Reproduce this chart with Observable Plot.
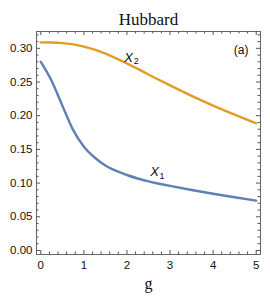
<!DOCTYPE html>
<html><head><meta charset="utf-8">
<script src="https://cdn.jsdelivr.net/npm/d3@7"></script>
<script src="https://cdn.jsdelivr.net/npm/@observablehq/plot@0.6"></script>
<style>body{margin:0;background:#fff}</style>
</head><body><div id="chart"></div>
<script>
const gValues = [0, 0.25, 0.5, 0.75, 1, 1.25, 1.5, 1.75, 2, 2.25, 2.5, 2.75, 3, 3.5, 4, 4.5, 5];
const x1Values = [0.280, 0.252, 0.215, 0.179, 0.154, 0.138, 0.126, 0.118, 0.112, 0.1068, 0.1025, 0.0990, 0.0958, 0.0898, 0.0842, 0.0790, 0.0740];
const x2Values = [0.3088, 0.3086, 0.3078, 0.3058, 0.3025, 0.2980, 0.2920, 0.2850, 0.2775, 0.2695, 0.2612, 0.2530, 0.2450, 0.2295, 0.2150, 0.2015, 0.1885];
const xTicks = [0, 1, 2, 3, 4, 5];
const xTickLabels = ["0", "1", "2", "3", "4", "5"];
const yTicks = [0, 0.05, 0.10, 0.15, 0.20, 0.25, 0.30];
const yTickLabels = ["0.00", "0.05", "0.10", "0.15", "0.20", "0.25", "0.30"];
const xMinor = d3.range(0, 5.01, 0.2).filter(v => Math.abs(v - Math.round(v)) > 1e-6);
const yMinor = d3.range(0, 0.3201, 0.01).filter(v => Math.abs(v * 20 - Math.round(v * 20)) > 1e-6);
const titleText = "Hubbard";
const xLabelText = "g";
const panelTag = "(a)";
const curveLabels = [
  {name: "X", sub: "1", g: 2.64, v: 0.117},
  {name: "X", sub: "2", g: 2.04, v: 0.2865}
];

const s1 = gValues.map((g, i) => ({g, v: x1Values[i]}));
const s2 = gValues.map((g, i) => ({g, v: x2Values[i]}));

const W = 270, H = 300, ML = 36, MR = 10, MT = 31, MB = 46;
const FW = W - ML - MR, FH = H - MT - MB;
const tickCol = "#555";

const chart = Plot.plot({
  width: W, height: H,
  marginLeft: ML, marginRight: MR, marginTop: MT, marginBottom: MB,
  style: {fontFamily: "'Liberation Sans', Arial, sans-serif", fontSize: "11.5px", color: "#111", background: "#fff"},
  x: {domain: [-0.1, 5.1], label: null},
  y: {domain: [-0.006, 0.325], label: null},
  marks: [
    Plot.frame({stroke: "#666"}),
    Plot.tickX(xTicks, {x: d => d, insetTop: FH - 4, stroke: tickCol}),
    Plot.tickX(xTicks, {x: d => d, insetBottom: FH - 4, stroke: tickCol}),
    Plot.tickX(xMinor, {x: d => d, insetTop: FH - 2.5, stroke: tickCol}),
    Plot.tickX(xMinor, {x: d => d, insetBottom: FH - 2.5, stroke: tickCol}),
    Plot.tickY(yTicks, {y: d => d, insetRight: FW - 4, stroke: tickCol}),
    Plot.tickY(yTicks, {y: d => d, insetLeft: FW - 4, stroke: tickCol}),
    Plot.tickY(yMinor, {y: d => d, insetRight: FW - 2.5, stroke: tickCol}),
    Plot.tickY(yMinor, {y: d => d, insetLeft: FW - 2.5, stroke: tickCol}),
    Plot.axisX(xTicks, {anchor: "bottom", tickSize: 0, tickPadding: 6, tickFormat: (d, i) => xTickLabels[i]}),
    Plot.axisY(yTicks, {anchor: "left", tickSize: 0, tickPadding: 4, tickFormat: (d, i) => yTickLabels[i]}),
    Plot.line(s1, {x: "g", y: "v", stroke: "#5E81B5", strokeWidth: 2.4, curve: "monotone-x"}),
    Plot.line(s2, {x: "g", y: "v", stroke: "#E19C24", strokeWidth: 2.4, curve: "monotone-x"}),
    Plot.text(curveLabels, {x: "g", y: "v", text: "name", fontStyle: "italic", fontSize: 13, fill: "#111"}),
    Plot.text(curveLabels, {x: "g", y: "v", text: "sub", dx: 7.5, dy: 4, fontSize: 9, fill: "#111"}),
    Plot.text([panelTag], {frameAnchor: "top-right", dx: -12, dy: 14, fontSize: 12, fill: "#111"}),
    Plot.text([titleText], {frameAnchor: "top", dy: -19, fontFamily: "'Liberation Serif', 'Times New Roman', serif", fontSize: 17, fill: "#111"}),
    Plot.text([xLabelText], {frameAnchor: "bottom", dy: 34, fontFamily: "'Liberation Serif', 'Times New Roman', serif", fontSize: 16, fill: "#111"})
  ]
});
document.getElementById("chart").appendChild(chart);
</script>
</body></html>
